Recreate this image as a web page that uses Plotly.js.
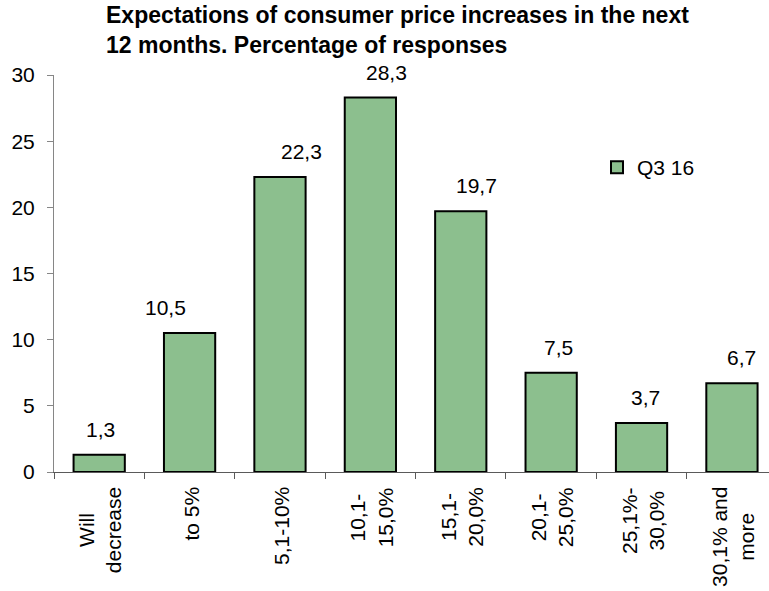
<!DOCTYPE html>
<html>
<head>
<meta charset="utf-8">
<script src="https://cdn.plot.ly/plotly-3.0.1.min.js"></script>
<style>
html,body{margin:0;padding:0;background:#fff;}
#chart{width:769px;height:591px;}
</style>
</head>
<body>
<div id="chart"></div>
<script>
// ---- data ----
var categories = ["Will<br>decrease", "to 5%", "5,1-10%", "10,1-<br>15,0%", "15,1-<br>20,0%", "20,1-<br>25,0%", "25,1%-<br>30,0%", "30,1% and<br>more"];
var values = [1.3, 10.5, 22.3, 28.3, 19.7, 7.5, 3.7, 6.7];
var seriesName = "Q3 16";
var yTickValues = [0, 5, 10, 15, 20, 25, 30];

// ---- label placement tweaks (pixels, style only) ----
var labelShiftX = [1, -24, 22, 16, 16, 7, 4, 10];

var FONT = "Liberation Sans, Arial, sans-serif";

function fmt(v) { return String(v.toFixed(1)).replace('.', ','); }

var trace = {
  type: 'bar',
  x: categories.map(function (c, i) { return i; }),
  y: values,
  name: seriesName,
  width: 0.567,
  marker: { color: '#8cbf8e', line: { color: '#000000', width: 2 } },
  hoverinfo: 'skip'
};

var annotations = [];
values.forEach(function (v, i) {
  annotations.push({
    x: i, y: v, xref: 'x', yref: 'y',
    text: fmt(v), showarrow: false,
    xanchor: 'center', yanchor: 'bottom',
    xshift: labelShiftX[i], yshift: 12,
    font: { family: FONT, size: 21, color: '#000' }
  });
});
categories.forEach(function (c, i) {
  annotations.push({
    x: i, y: 0, xref: 'x', yref: 'y',
    text: c, showarrow: false, textangle: -90,
    align: 'center',
    xanchor: 'center', yanchor: 'top',
    xshift: 1, yshift: -13,
    font: { family: FONT, size: 21, color: '#000' }
  });
});

var layout = {
  width: 769, height: 591,
  margin: { l: 54, r: 0, t: 75, b: 119, pad: 0 },
  paper_bgcolor: '#fff', plot_bgcolor: '#fff',
  font: { family: FONT, size: 21, color: '#000' },
  title: {
    text: '<b>Expectations of consumer price increases in the next<br>12 months. Percentage of responses</b>',
    font: { family: FONT, size: 23, color: '#000' },
    xref: 'container', yref: 'container',
    x: 106 / 769, xanchor: 'left',
    y: 1 - 23 / 591, yanchor: 'top'
  },
  xaxis: {
    type: 'linear',
    range: [-0.5, 7.41],
    showticklabels: false,
    showgrid: false, zeroline: false,
    showline: true, linecolor: '#5a5a5a', linewidth: 1,
    ticks: 'outside', ticklen: 6, tickcolor: '#5a5a5a', tickwidth: 1,
    tickmode: 'array',
    tickvals: categories.map(function (c, i) { return i - 0.5; }),
    fixedrange: true
  },
  yaxis: {
    range: [0, 30],
    tickmode: 'array', tickvals: yTickValues,
    ticktext: yTickValues.map(String),
    showgrid: false, zeroline: false,
    showline: true, linecolor: '#868686', linewidth: 1,
    ticks: 'outside', ticklen: 6, tickcolor: '#868686', tickwidth: 1,
    ticklabelstandoff: 8,
    tickfont: { family: FONT, size: 21, color: '#000' },
    fixedrange: true
  },
  showlegend: true,
  legend: {
    x: (597 - 54) / 715, xanchor: 'left',
    y: (472 - 167.5) / 397, yanchor: 'middle',
    font: { family: FONT, size: 21, color: '#000' },
    bgcolor: 'rgba(0,0,0,0)', borderwidth: 0
  },
  annotations: annotations,
  bargap: 0.43
};

Plotly.newPlot('chart', [trace], layout, { displayModeBar: false, staticPlot: true });
</script>
</body>
</html>
